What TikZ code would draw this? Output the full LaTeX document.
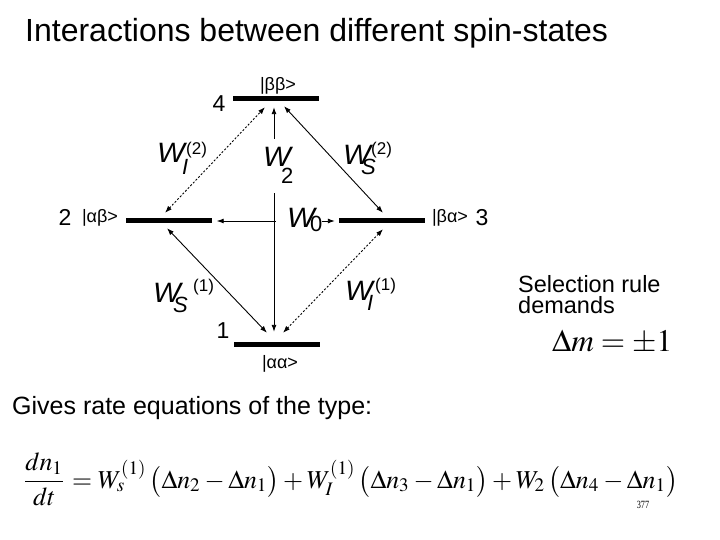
\documentclass[tikz,border=0pt]{standalone}
\usepackage{amsmath}
\usepackage{mathptmx}
\usepackage[no-math]{fontspec}
\setmainfont{Liberation Sans}
\newfontfamily\serifnum{Liberation Serif}
\usetikzlibrary{arrows.meta,calc}
% #1 sub, #2 sup, #3 sub raise, #4 sup raise, #5 sub x-offset, #6 sup x-offset (from left of W)
\newcommand{\WL}[6]{\rlap{\scalebox{1.05}[1]{\textit{W}}}\rlap{\kern#6\raisebox{#4}{\fontsize{17}{17}\selectfont #2}}\kern#5\raisebox{#3}{\fontsize{22}{22}\selectfont #1}}
\tikzset{
  lvl/.style={fill=black, draw=none, minimum width=86pt, minimum height=5pt, inner sep=0pt},
  tipboth/.style={{Latex[length=7pt,width=5pt]}-{Latex[length=7pt,width=5pt]}, line width=0.9pt},
  dotboth/.style={tipboth, dash pattern=on 2pt off 1.8pt},
  wlab/.style={font=\fontsize{28}{30}\selectfont, inner sep=0pt, anchor=base west},
  num/.style={font=\fontsize{23}{25}\selectfont, inner sep=0pt},
  ket/.style={font=\fontsize{18}{20}\selectfont, inner sep=0pt},
  txt/.style={inner sep=0pt, anchor=base west}
}
\begin{document}
\begin{tikzpicture}[x=1pt,y=-1pt]
\useasboundingbox[fill=white] (0,0) rectangle (720,540);

% title
\node[txt, font=\fontsize{32}{34}\selectfont] (title) at (25,42) {Interactions between different spin-states};

% levels
\node[lvl] (L4) at (276,99) {};
\node[lvl] (L2) at (168.5,221) {};
\node[lvl] (L3) at (382,221) {};
\node[lvl] (L1) at (276.5,344) {};

% level numbers and kets
\node[num] (n4) at (219,104) {4};
\node[num] (n2) at (65,217) {2};
\node[num] (n3) at (482,218) {3};
\node[num] (n1) at (223,331) {1};
\node[ket] (k4) at (278,86) {|ββ>};
\node[ket] (k2) at (100,218) {|αβ>};
\node[ket] (k3) at (450,218) {|βα>};
\node[ket] (k1) at (280,364) {|αα>};

% diagonal transitions
\draw[dotboth] ($(L2.north)+(-3.5,-5.5)$) -- ($(L4.south)+(-11,5.5)$);
\draw[tipboth] ($(L3.north)+(1,-5.5)$) -- ($(L4.south)+(8,4.5)$);
\draw[tipboth] ($(L2.south)+(-1.5,4.5)$) -- ($(L1.north)+(-9.5,-8.5)$);
\draw[dotboth] ($(L3.south)+(1,5.5)$) -- ($(L1.north)+(6.5,-8.5)$);

% W0 horizontal
\draw[tipboth] ($(L2.east)+(5,0)$) -- ($(L3.west)+(-4,0)$);
\node[wlab, fill=white] (w0) at (276,228) {\hspace*{11pt}\WL{0}{}{-4pt}{0pt}{23pt}{0pt}};

% W2 vertical
\draw[tipboth] ($(L4.south)+(-2,5.5)$) -- ($(L1.north)+(-2.5,-9.5)$);
\node[wlab, fill=white, inner ysep=9pt, inner xsep=2pt] (w2) at (261,167) {\WL{2}{}{-17pt}{0pt}{18pt}{0pt}\hspace*{10pt}};

% transition labels
\node[wlab] (wi2) at (157,163) {\WL{\textit{I}}{(2)}{-12pt}{8.5pt}{25pt}{29pt}};
\node[wlab] (ws2) at (343,165) {\WL{\textit{S}}{(2)}{-10pt}{10.5pt}{18pt}{28pt}};
\node[wlab] (ws1) at (153,302) {\WL{\textit{S}}{(1)}{-10pt}{10.5pt}{20pt}{40pt}};
\node[wlab] (wi1) at (345,300) {\WL{\textit{I}}{(1)}{-10pt}{9.5pt}{22pt}{30pt}};

% selection rule
\node[txt, font=\fontsize{23.5}{25}\selectfont] (sel1) at (518,292) {Selection rule};
\node[txt, font=\fontsize{23.5}{25}\selectfont] (sel2) at (518,313) {demands};
\node[txt] (dm) at (552,351) {\resizebox{120pt}{!}{$\Delta m=\pm 1$}};

% rate equation
\node[txt, font=\fontsize{25}{28}\selectfont] (gives) at (12,414) {Gives rate equations of the type:};
\node[txt] (eq) at (22,488) {\resizebox{656pt}{!}{$\dfrac{dn_1}{dt}=W_s^{(1)}\,\bigl(\Delta n_2-\Delta n_1\bigr)+W_I^{(1)}\,\bigl(\Delta n_3-\Delta n_1\bigr)+W_2\,\bigl(\Delta n_4-\Delta n_1\bigr)$}};

% page number
\node[inner sep=0pt] (pg) at (643,505) {\scalebox{0.75}[1]{\fontsize{11}{11}\serifnum 377}};
\end{tikzpicture}
\end{document}
